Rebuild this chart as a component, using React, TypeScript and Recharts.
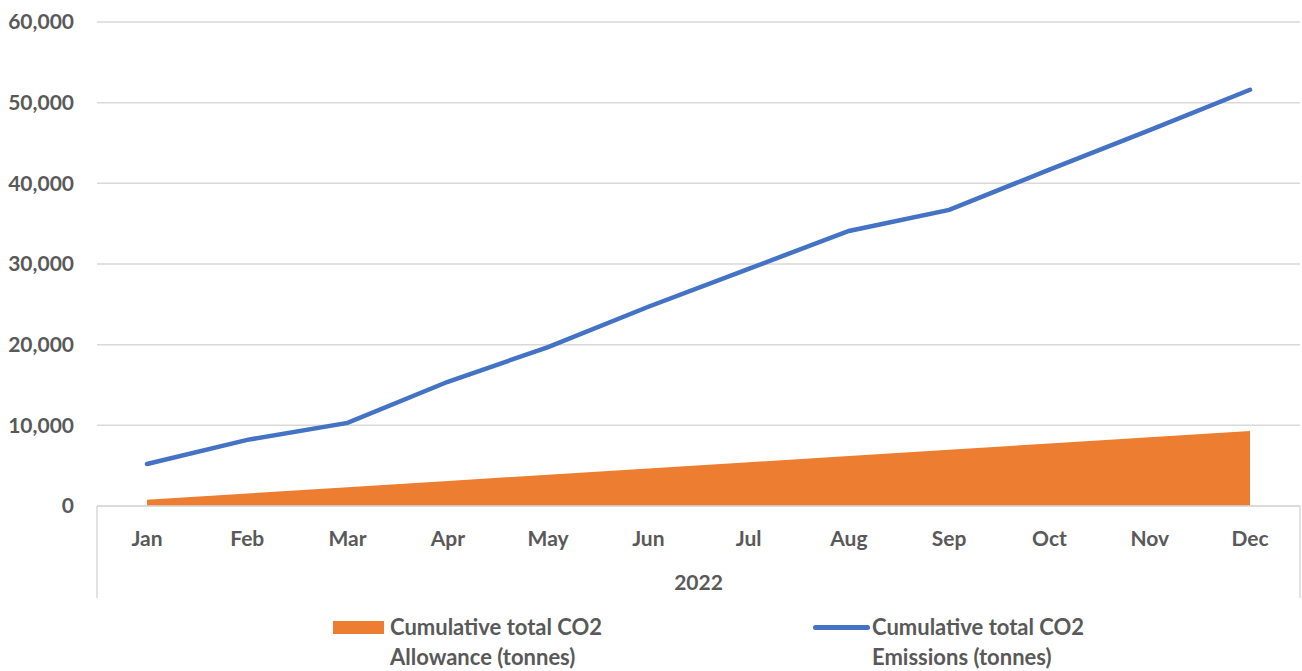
import React from 'react'
import { ComposedChart, Area, Line, XAxis, YAxis, CartesianGrid, Legend } from 'recharts'

const months = ['Jan', 'Feb', 'Mar', 'Apr', 'May', 'Jun', 'Jul', 'Aug', 'Sep', 'Oct', 'Nov', 'Dec']
const allowance = [775, 1550, 2325, 3100, 3875, 4650, 5425, 6200, 6975, 7750, 8525, 9300]
const emissions = [5200, 8200, 10300, 15400, 19700, 24700, 29400, 34100, 36700, 41700, 46600, 51600]
const yTicks = [0, 10000, 20000, 30000, 40000, 50000, 60000]
const yearLabel = '2022'

const data = months.map((m, i) => ({ month: m, allowance: allowance[i], emissions: emissions[i] }))

const FONT = 'Lato, "Open Sans", sans-serif'
const TEXT = '#595959'
const GRID = '#D9D9D9'
const ORANGE = '#ED7D31'
const BLUE = '#4472C4'

const fmt = (v: number) => v.toLocaleString('en-US')

// year label under the month ticks, boxed in by the two side rules
function YearLabel(props: any) {
  const vb = props.viewBox || {}
  const x = vb.x ?? 0
  const y = vb.y ?? 0
  const w = vb.width ?? 0
  return (
    <g>
      <line x1={x} y1={y} x2={x} y2={y + 92} stroke={GRID} strokeWidth={1.5} />
      <line x1={x + w} y1={y} x2={x + w} y2={y + 92} stroke={GRID} strokeWidth={1.5} />
      <text
        x={x + w / 2}
        y={y + 84}
        textAnchor="middle"
        fill={TEXT}
        style={{ fontFamily: FONT, fontWeight: 700, fontSize: 21 }}
      >
        {yearLabel}
      </text>
    </g>
  )
}

function LegendBox() {
  const textStyle: React.CSSProperties = {
    fontFamily: FONT,
    fontWeight: 700,
    fontSize: 22,
    color: TEXT,
    lineHeight: '30px',
    position: 'absolute',
    whiteSpace: 'nowrap',
  }
  return (
    <div style={{ position: 'relative', width: 1302, height: 73 }}>
      <div style={{ position: 'absolute', left: 333, top: 23, width: 51, height: 13, background: ORANGE }} />
      <div style={{ ...textStyle, left: 390, top: 14 }}>
        Cumulative total CO2
        <br />
        Allowance (tonnes)
      </div>
      <div style={{ position: 'absolute', left: 813, top: 27, width: 57, height: 5, borderRadius: 3, background: BLUE }} />
      <div style={{ ...textStyle, left: 872, top: 14 }}>
        Cumulative total CO2
        <br />
        Emissions (tonnes)
      </div>
    </div>
  )
}

export default function App() {
  return (
    <div style={{ position: 'absolute', left: 0, top: 0, background: '#fff' }}>
      <ComposedChart width={1302} height={671} data={data} margin={{ top: 22, right: 2, left: 0, bottom: 0 }}>
        <CartesianGrid vertical={false} stroke={GRID} strokeWidth={1.5} />
        <XAxis
          dataKey="month"
          padding={{ left: 50, right: 50 }}
          height={92}
          tickLine={false}
          tickSize={0}
          tickMargin={25}
          axisLine={{ stroke: GRID, strokeWidth: 1.5 }}
          tick={{ fill: TEXT, fontFamily: FONT, fontWeight: 700, fontSize: 21 }}
          label={<YearLabel />}
        />
        <YAxis
          width={97}
          domain={[0, 60000]}
          ticks={yTicks}
          tickFormatter={fmt}
          axisLine={false}
          tickLine={false}
          tickSize={0}
          tickMargin={23}
          tick={{ fill: TEXT, fontFamily: FONT, fontWeight: 700, fontSize: 21 }}
        />
        <Area
          type="linear"
          dataKey="allowance"
          fill={ORANGE}
          fillOpacity={1}
          stroke="none"
          isAnimationActive={false}
        />
        <Line
          type="linear"
          dataKey="emissions"
          stroke={BLUE}
          strokeWidth={4.5}
          strokeLinecap="round"
          dot={false}
          activeDot={false}
          isAnimationActive={false}
        />
        <Legend verticalAlign="bottom" content={<LegendBox />} wrapperStyle={{ left: 0, width: 1302 }} />
      </ComposedChart>
    </div>
  )
}
